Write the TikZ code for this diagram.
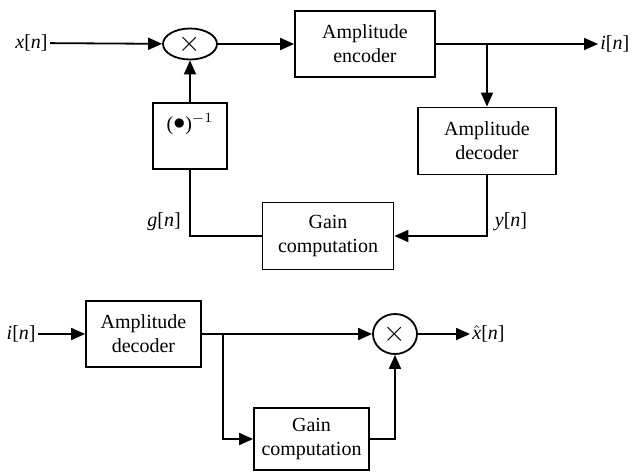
\documentclass[tikz,border=0pt]{standalone}
\usepackage{fontspec}
\setmainfont{Liberation Serif}
\usetikzlibrary{arrows.meta,shapes.geometric}
\newcommand{\xhatsym}{$\hat{\mbox{\textit{x}}}$}
\begin{document}
\begin{tikzpicture}[x=0.5pt,y=-0.5pt,
  blk/.style={draw,line width=0.9pt,align=center,inner sep=0pt,font=\fontsize{10}{12}\selectfont},
  mulnode/.style={draw,ellipse,line width=0.9pt,inner sep=0pt,font=\fontsize{15}{15}\selectfont},
  lbl/.style={inner sep=1pt,font=\fontsize{10}{12}\selectfont},
  conn/.style={line width=0.9pt},
  arr/.style={line width=0.9pt,-{Triangle[length=7pt,width=6pt]}}]
\useasboundingbox (0,0) rectangle (633,472);
% top diagram
\node[lbl,anchor=east] (xn) at (50,43) {\textit{x}[\textit{n}]};
\node[mulnode,minimum width=27pt,minimum height=15.5pt] (m1) at (190,44) {$\times$};
\node[blk,minimum width=70pt,minimum height=33pt] (enc) at (365,44) {Amplitude\\encoder};
\node[lbl,anchor=west] (in) at (598,44) {\textit{i}[\textit{n}]};
\coordinate (br1) at (487,44);
\node[blk,minimum width=69pt,minimum height=33.5pt] (dec) at (487,141) {Amplitude\\decoder};
\node[blk,minimum width=65.5pt,minimum height=33.5pt] (gain) at (328,236) {Gain\\computation};
\node[blk,minimum width=37pt,minimum height=33pt] (inv) at (190,136) {};
\node[lbl] (invt) at (190,124) {(\raisebox{0.1ex}{\fontsize{12}{12}\selectfont$\bullet$})$^{-1}$};
\node[lbl] (gn) at (164,222) {\textit{g}[\textit{n}]};
\node[lbl] (yn) at (511,222) {\textit{y}[\textit{n}]};
\draw[arr] (xn) -- (m1);
\draw[arr] (m1) -- (enc);
\draw[arr] (enc) -- (in);
\draw[arr] (br1) -- (dec);
\draw[arr] (dec.south) |- (gain.east);
\draw[conn] (gain.west) -| (inv.south);
\draw[arr] (inv.north) -- (m1.south);
% bottom diagram
\node[lbl,anchor=east] (in2) at (38,334) {\textit{i}[\textit{n}]};
\node[blk,minimum width=57.5pt,minimum height=33pt] (dec2) at (143.5,334) {Amplitude\\decoder};
\node[mulnode,minimum width=22pt,minimum height=20pt] (m2) at (395,334) {$\times$};
\node[lbl,anchor=west] (xh) at (470,334) {\xhatsym[\textit{n}]};
\coordinate (br2) at (223,334);
\node[blk,minimum width=57.5pt,minimum height=31pt] (gain2) at (311.5,439) {Gain\\computation};
\draw[arr] (in2) -- (dec2);
\draw[arr] (dec2) -- (m2);
\draw[arr] (m2) -- (xh);
\draw[arr] (br2) |- (gain2.west);
\draw[arr] (gain2.east) -| (m2.south);
\end{tikzpicture}
\end{document}
